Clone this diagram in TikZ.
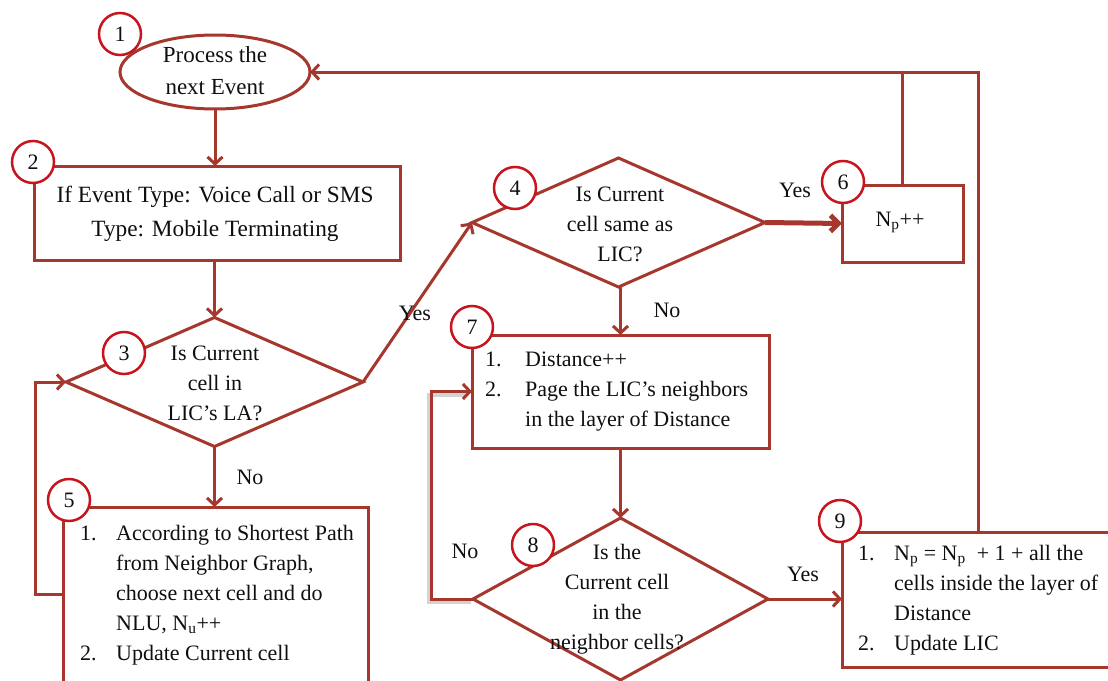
\documentclass[tikz,border=0pt]{standalone}
\usepackage{fontspec}
\setmainfont{Liberation Serif}
\usetikzlibrary{shapes.geometric,arrows.meta,calc}
\definecolor{flow}{RGB}{165,55,45}
\definecolor{badge}{RGB}{200,20,30}
\definecolor{ink}{RGB}{15,15,15}

\begin{document}
\begin{tikzpicture}[x=1pt,y=-1pt,
  every node/.style={text=ink,font=\fontsize{22}{30}\selectfont},
  conn/.style={draw=flow,line width=3pt},
  arr/.style={conn,-{Straight Barb[length=7pt,width=15pt]}},
  stepbox/.style={draw=flow,line width=3pt,rectangle,inner sep=0pt,outer sep=0pt},
  decision/.style={draw=flow,line width=3pt,diamond,inner sep=0pt,outer sep=0pt},
  startshape/.style={draw=flow,line width=3pt,ellipse,inner sep=0pt,outer sep=0pt},
  badgenum/.style={circle,draw=badge,fill=white,line width=2.5pt,minimum size=42pt,inner sep=0pt},
  txt/.style={inner sep=0pt,align=center},
  lbl/.style={inner sep=0pt}
]
\useasboundingbox (0,0) rectangle (1108,680);
\clip (0,0) rectangle (1108,680);

% shapes of the flow
\node[startshape,minimum width=190pt,minimum height=74pt] (e1) at (215,72) {};
\node[stepbox,minimum width=366pt,minimum height=94pt] (b2) at (217,213) {};
\node[decision,minimum width=297pt,minimum height=129pt] (d3) at (214.5,382) {};
\node[decision,minimum width=293pt,minimum height=129pt] (d4) at (618.5,222.5) {};
\node[stepbox,minimum width=305pt,minimum height=193pt] (b5) at (215.5,603.5) {};
\node[stepbox,minimum width=121pt,minimum height=77pt] (b6) at (902.5,223.5) {};
\node[stepbox,minimum width=297pt,minimum height=113pt] (b7) at (620.5,391.5) {};
\node[decision,minimum width=295pt,minimum height=162pt] (d8) at (620.5,599) {};
\node[stepbox,minimum width=273pt,minimum height=135pt] (b9) at (978.5,599.5) {};

% texts
\node[txt,font=\fontsize{23}{32}\selectfont] (t1) at (215,71) {Process the\\next Event};
\node[txt,font=\fontsize{23.3}{34}\selectfont] (t2) at (215,214) {If Event Type: Voice Call or SMS\\Type: Mobile Terminating};
\node[txt] (t3) at (215,383) {Is Current\\cell in\\LIC’s LA?};
\node[txt] (t4) at (620,224.5) {Is Current\\cell same as\\LIC?};
\node[txt,anchor=west] (t5) at (80,594.5) {\begin{tabular}{@{}p{36pt}@{}l@{}}
1. & According to Shortest Path\\
   & from Neighbor Graph,\\
   & choose next cell and do\\
   & NLU, N\textsubscript{u}++\\
2. & Update Current cell
\end{tabular}};
\node[txt] (t6) at (900,222) {N\textsubscript{p}++};
\node[txt,anchor=west] (t7) at (485,390.5) {\begin{tabular}{@{}p{40pt}@{}l@{}}
1. & Distance++\\
2. & Page the LIC’s neighbors\\
   & in the layer of Distance
\end{tabular}};
\node[txt] (t8) at (617,599.5) {Is the\\Current cell\\in the\\neighbor cells?};
\node[txt,anchor=west] (t9) at (858,599) {\begin{tabular}{@{}p{36pt}@{}l@{}}
1. & N\textsubscript{p} = N\textsubscript{p}\enspace + 1 + all the\\
   & cells inside the layer of\\
   & Distance\\
2. & Update LIC
\end{tabular}};

% connectors
\draw[arr] (e1.south) -- (e1.south |- b2.north);
\draw[arr] (b2.south -| d3.north) -- (d3.north);
\draw[arr] (d3.south) -- (d3.south |- b5.north);
\draw[arr] ($(b5.north west)+(0,87)$) -- ++(-28,0) |- (d3.west);
\draw[arr] (d3.east) -- (d4.west);
\draw[conn,line width=5pt,-{Straight Barb[length=8pt,width=16pt]}] (d4.east) -- (b6.west);
\draw[conn] (b6.north) -- (b6.north |- e1.east);
\draw[arr] (b9.north) |- (e1.east);
\draw[arr] (d4.south -| b7.north) -- (b7.north);
\draw[arr] (b7.south) -- (d8.north);
% soft shadow under the "No" loop
\draw[gray,opacity=0.35,line width=4pt] ([shift={(-2,3)}]d8.west) -- ++(-42,0) |- ([shift={(-6,3)}]b7.west);
\draw[arr] (d8.west) -- ++(-42,0) |- (b7.west);
\draw[arr] (d8.east) -- (d8.east -| b9.west);

% branch labels
\node[lbl] (y3) at (415,313) {Yes};
\node[lbl] (n3) at (250,477) {No};
\node[lbl] (y4) at (795,190) {Yes};
\node[lbl] (n4) at (667,310) {No};
\node[lbl] (n8) at (465,551) {No};
\node[lbl] (y8) at (803,574) {Yes};

% step numbers
\node[badgenum] (c1) at (120,34) {1};
\node[badgenum] (c2) at (33,162) {2};
\node[badgenum] (c3) at (124,353) {3};
\node[badgenum] (c4) at (515,188) {4};
\node[badgenum] (c5) at (69,500) {5};
\node[badgenum] (c6) at (843,182) {6};
\node[badgenum] (c7) at (472,327) {7};
\node[badgenum] (c8) at (533,545) {8};
\node[badgenum] (c9) at (840,521) {9};
\end{tikzpicture}
\end{document}
